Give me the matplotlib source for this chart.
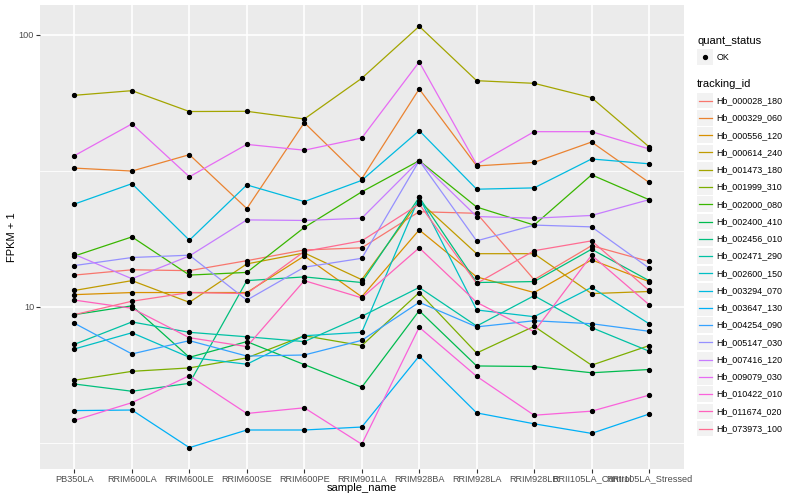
import matplotlib
matplotlib.use("Agg")
import matplotlib.pyplot as plt
from matplotlib.patches import Rectangle

plt.rcParams['font.family'] = ['Liberation Sans', 'DejaVu Sans']

samples = ["PB350LA", "RRIM600LA", "RRIM600LE", "RRIM600SE", "RRIM600PE", "RRIM901LA",
           "RRIM928BA", "RRIM928LA", "RRIM928LB", "RRII105LA_Control", "RRII105LA_Stressed"]

# FPKM + 1 per sample
hb_000028_180 = [13.1, 13.7, 13.6, 14.8, 16.2, 16.5, 22.4, 22.1, 12.6, 16.8, 14.7]
hb_000329_060 = [32.4, 31.6, 36.3, 23.0, 47.6, 29.6, 63.3, 33.0, 34.0, 40.4, 28.7]
hb_000556_120 = [11.1, 11.3, 11.3, 11.3, 15.4, 10.9, 19.2, 12.9, 11.3, 14.9, 12.4]
hb_000614_240 = [11.5, 12.5, 10.4, 14.4, 15.8, 12.6, 24.5, 15.7, 15.7, 11.2, 11.4]
hb_001473_180 = [60.0, 62.4, 52.3, 52.4, 49.1, 69.3, 107.6, 67.9, 66.4, 58.8, 38.8]
hb_001999_310 = [5.38, 5.80, 5.97, 6.50, 7.84, 7.21, 11.3, 6.77, 8.49, 6.11, 7.21]
hb_002000_080 = [15.4, 18.1, 13.1, 13.4, 19.6, 26.5, 34.5, 23.3, 20.0, 30.6, 24.8]
hb_002400_410 = [9.37, 10.1, 6.53, 7.46, 6.14, 5.07, 9.69, 6.07, 6.04, 5.73, 5.89]
hb_002456_010 = [5.21, 4.90, 5.24, 12.5, 12.9, 12.3, 25.3, 12.3, 12.4, 16.3, 12.5]
hb_002471_290 = [7.29, 8.81, 8.07, 7.77, 7.46, 9.24, 11.8, 8.51, 11.0, 8.40, 6.88]
hb_002600_150 = [7.01, 8.04, 6.53, 6.16, 7.84, 8.07, 25.3, 9.75, 9.21, 11.8, 8.68]
hb_003294_070 = [23.9, 28.4, 17.6, 28.1, 24.4, 29.2, 44.5, 27.1, 27.4, 35.0, 33.6]
hb_003647_130 = [4.16, 4.18, 3.04, 3.53, 3.53, 3.62, 6.60, 4.08, 3.72, 3.43, 4.04]
hb_004254_090 = [8.71, 6.72, 7.52, 6.60, 6.66, 7.54, 10.4, 8.45, 8.90, 8.68, 8.14]
hb_005147_030 = [14.2, 15.2, 15.5, 10.6, 14.0, 15.1, 34.5, 17.5, 20.0, 19.7, 13.9]
hb_007416_120 = [15.6, 12.7, 15.4, 20.9, 20.8, 21.2, 34.5, 21.5, 21.2, 21.7, 24.8]
hb_009079_030 = [36.0, 47.1, 30.1, 39.6, 37.7, 41.8, 79.6, 33.4, 44.1, 44.1, 38.1]
hb_010422_010 = [3.83, 4.45, 5.59, 4.06, 4.26, 3.13, 8.42, 5.56, 4.00, 4.14, 4.74]
hb_011674_020 = [10.6, 9.89, 7.71, 7.15, 12.5, 10.8, 16.5, 10.4, 8.11, 15.5, 10.2]
hb_073973_100 = [9.37, 10.5, 11.3, 11.2, 16.0, 17.5, 23.9, 12.2, 16.1, 17.5, 11.5]

tracking_ids = ["Hb_000028_180", "Hb_000329_060", "Hb_000556_120", "Hb_000614_240",
                "Hb_001473_180", "Hb_001999_310", "Hb_002000_080", "Hb_002400_410",
                "Hb_002456_010", "Hb_002471_290", "Hb_002600_150", "Hb_003294_070",
                "Hb_003647_130", "Hb_004254_090", "Hb_005147_030", "Hb_007416_120",
                "Hb_009079_030", "Hb_010422_010", "Hb_011674_020", "Hb_073973_100"]
series = [hb_000028_180, hb_000329_060, hb_000556_120, hb_000614_240, hb_001473_180,
          hb_001999_310, hb_002000_080, hb_002400_410, hb_002456_010, hb_002471_290,
          hb_002600_150, hb_003294_070, hb_003647_130, hb_004254_090, hb_005147_030,
          hb_007416_120, hb_009079_030, hb_010422_010, hb_011674_020, hb_073973_100]
colors = ["#F8766D", "#EA8331", "#D89000", "#C09B00", "#A3A500", "#7CAE00", "#39B600",
          "#00BB4E", "#00BF7D", "#00C1A3", "#00BFC4", "#00BAE0", "#00B0F6", "#35A2FF",
          "#9590FF", "#C77CFF", "#E76BF3", "#FA62DB", "#FF62BC", "#FF6C91"]

fig = plt.figure(figsize=(8, 5), dpi=100)
ax = fig.add_axes([40 / 800, 1 - 468.7 / 500, 643.5 / 800, 463.4 / 500])
ax.set_facecolor("#EBEBEB")
for s in ax.spines.values():
    s.set_visible(False)

x = list(range(len(samples)))
for vals, c in zip(series, colors):
    ax.plot(x, vals, color=c, lw=0.9, zorder=2)
for vals in series:
    ax.plot(x, vals, "o", color="black", ms=2.8, zorder=3)

ax.set_yscale("log")
ax.set_ylim(10 ** 0.4055, 10 ** 2.109)
ax.set_xlim(-0.6, len(samples) - 0.4)
ax.set_yticks([10, 100])
ax.set_yticklabels(["10", "100"])
ax.set_yticks([10 ** 0.5, 10 ** 1.5], minor=True)
ax.set_xticks(x)
ax.set_xticklabels(samples)
ax.tick_params(which="major", length=2.7, width=0.8, color="#333333",
               labelsize=6.6, labelcolor="#4D4D4D", pad=1.5)
ax.tick_params(which="minor", length=0)
ax.yaxis.set_minor_formatter(plt.NullFormatter())
ax.set_axisbelow(True)
ax.grid(which="major", color="white", lw=1.2)
ax.grid(which="minor", axis="y", color="white", lw=0.6)

ax.set_xlabel("sample_name", fontsize=8)
ax.set_ylabel("FPKM + 1", fontsize=8)
ax.xaxis.set_label_coords(0.5, -0.031)
ax.yaxis.set_label_coords(-0.036, 0.5)

# legend drawn in pixel space on an overlay
ov = fig.add_axes([0, 0, 1, 1], facecolor="none")
ov.set_xlim(0, 800)
ov.set_ylim(500, 0)
ov.axis("off")
ov.text(697, 41, "quant_status", fontsize=8, va="center", ha="left")
ov.add_patch(Rectangle((697, 49), 16, 15.5, color="#F2F2F2", lw=0))
ov.plot([705], [56.8], "o", color="black", ms=2.8)
ov.text(716.5, 57, "OK", fontsize=6.4, va="center", ha="left")
ov.text(697, 84, "tracking_id", fontsize=8, va="center", ha="left")
for i, (tid, c) in enumerate(zip(tracking_ids, colors)):
    yc = 100.7 + i * 17.26
    ov.add_patch(Rectangle((697, yc - 7.8), 16, 15.5, color="#F2F2F2", lw=0))
    ov.plot([698.5, 711.5], [yc, yc], color=c, lw=0.9)
    ov.text(716.5, yc, tid, fontsize=6.4, va="center", ha="left")

fig.savefig("out.png", dpi=100)
